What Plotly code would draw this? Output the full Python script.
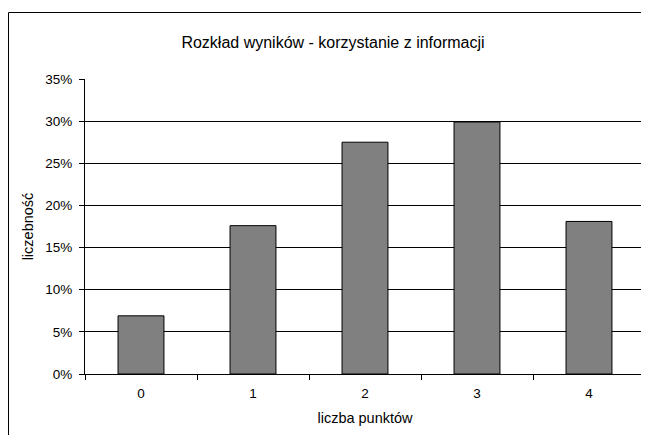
import plotly.graph_objects as go

# dane
punkty = ['0', '1', '2', '3', '4']
liczebnosc = [0.069, 0.176, 0.275, 0.299, 0.181]

tytul = 'Rozkład wyników - korzystanie z informacji'
tytul_x = 'liczba punktów'
tytul_y = 'liczebność'

W, H = 641, 427  # strona ma 8px marginesu body
L, T, PW, PH = 77, 71, 560, 295

fig = go.Figure(
    [
        go.Bar(
            x=punkty,
            y=liczebnosc,
            marker=dict(color='#808080', line=dict(color='black', width=1)),
            hoverinfo='x+y'
        )
    ]
)

# ramka obszaru wykresu (styl Excela) - tylko lewa i górna krawędź widoczne
x_lewa = (0.5 - L) / PW
y_gora = (T + PH - 4.5) / PH
fig.add_shape(type='line', xref='paper', yref='paper',
              x0=x_lewa, x1=x_lewa, y0=-(H - T - PH) / PH, y1=y_gora,
              line=dict(color='black', width=1), layer='below')
fig.add_shape(type='line', xref='paper', yref='paper',
              x0=x_lewa, x1=(W - L) / PW, y0=y_gora, y1=y_gora,
              line=dict(color='black', width=1), layer='below')

fig.update_layout(
    width=W,
    height=H,
    autosize=False,
    paper_bgcolor='white',
    plot_bgcolor='white',
    showlegend=False,
    bargap=0.59,
    font=dict(family='Liberation Sans, Arial', size=13.5, color='black'),
    title=dict(
        text=tytul,
        x=325 / W,
        xanchor='center',
        y=1 - 34 / H,
        yanchor='middle',
        font=dict(size=16)
    ),
    margin=dict(l=L, r=W - L - PW, t=T, b=H - T - PH),
    xaxis=dict(
        type='category',
        showline=True,
        linecolor='black',
        linewidth=1,
        ticks='outside',
        tickson='boundaries',
        ticklen=5,
        tickcolor='black',
        showgrid=False,
        ticklabelstandoff=7,
        title=dict(text=tytul_x, font=dict(size=14.5), standoff=12)
    ),
    yaxis=dict(
        range=[0, 0.35],
        dtick=0.05,
        tickformat='.0%',
        showline=True,
        linecolor='black',
        linewidth=1,
        ticks='outside',
        ticklen=5,
        tickcolor='black',
        showgrid=True,
        gridcolor='black',
        gridwidth=1,
        zeroline=False,
        ticklabelstandoff=4,
        title=dict(text=tytul_y, font=dict(size=14.5), standoff=8)
    )
)

fig.write_html("out.html")
